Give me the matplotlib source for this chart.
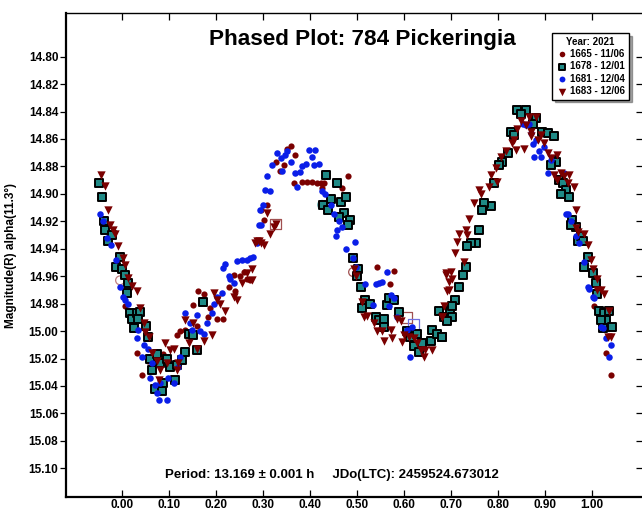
import matplotlib
matplotlib.use("Agg")
import matplotlib.pyplot as plt
from matplotlib.ticker import MultipleLocator, FormatStrFormatter

plt.rcParams['font.family'] = ['Liberation Sans', 'DejaVu Sans']

title = "Phased Plot: 784 Pickeringia"
ylabel = "Magnitude(R) alpha(11.3°)"
footer = "Period: 13.169 ± 0.001 h     JDo(LTC): 2459524.673012"
legend_title = "Year: 2021"
labels = ["1665 - 11/06", "1678 - 12/01", "1681 - 12/04", "1683 - 12/06"]

# Session 1665 (maroon circles)
ph_1665 = [0.006, 0.031, 0.041, 0.055, 0.080, 0.098, 0.087, 0.116, 0.123, 0.134, 0.151, 0.159,
           0.162, 0.173, 0.183, 0.187, 0.201, 0.215, 0.226, 0.237, 0.240, 0.251, 0.258, 0.265,
           0.272, 0.294, 0.301, 0.308, 0.326, 0.336, 0.343, 0.351, 0.359, 0.365, 0.368, 0.383,
           0.393, 0.404, 0.415, 0.422, 0.429, 0.425, 0.468, 0.480, 0.542, 0.569, 0.579, 1.004,
           1.029, 1.040]
mag_1665 = [14.982, 15.016, 15.032, 15.022, 15.036, 15.026, 15.017, 15.003, 15.000, 14.999, 14.981, 14.996,
            14.971, 14.973, 14.990, 14.983, 14.991, 14.991, 14.968, 14.959, 14.971, 14.960, 14.957, 14.962,
            14.963, 14.912, 14.919, 14.908, 14.877, 14.883, 14.879, 14.867, 14.865, 14.892, 14.872, 14.891,
            14.891, 14.891, 14.892, 14.892, 14.892, 14.896, 14.896, 14.887, 14.953, 14.966, 14.956, 14.982,
            15.016, 15.032]

# Session 1678 (teal squares)
ph_1678 = [-0.049, -0.044, -0.040, -0.037, -0.030, -0.023, -0.006, -0.013, -0.001, 0.006, 0.013, 0.009,
           0.016, 0.020, 0.025, 0.031, 0.038, 0.034, 0.051, 0.055, 0.059, 0.063, 0.070, 0.073,
           0.080, 0.084, 0.087, 0.095, 0.102, 0.112, 0.116, 0.127, 0.134, 0.141, 0.151, 0.159,
           0.171,
           0.434, 0.456, 0.443, 0.466, 0.477, 0.427, 0.437, 0.471, 0.485, 0.461, 0.480, 0.490,
           0.501, 0.500, 0.507, 0.517, 0.510, 0.528, 0.539, 0.546, 0.556, 0.564, 0.567, 0.579,
           0.588, 0.556, 0.606, 0.613, 0.628, 0.638, 0.620, 0.656, 0.660, 0.670, 0.681, 0.674,
           0.684, 0.697, 0.631,
           0.839, 0.859, 0.848, 0.880, 0.873, 0.827, 0.834, 0.894, 0.905, 0.918, 0.820, 0.809,
           0.802, 0.791, 0.784, 0.770, 0.766, 0.759, 0.752, 0.741, 0.734, 0.731, 0.724, 0.716,
           0.709, 0.702, 0.702, 0.692, 0.681, 0.919, 0.923, 0.912, 0.930, 0.937, 0.944, 0.933,
           0.951, 0.958, 0.965, 0.969, 0.976, 0.980, 0.990, 0.983, 1.001, 1.008, 1.011, 1.015,
           1.026, 1.029, 1.019, 1.022, 1.043, 1.036, 0.955]
mag_1678 = [14.892, 14.902, 14.920, 14.926, 14.934, 14.930, 14.946, 14.953, 14.955, 14.959, 14.965, 14.972,
            14.987, 14.991, 14.998, 14.987, 14.986, 14.991, 14.996, 15.004, 15.020, 15.028, 15.042, 15.017,
            15.023, 15.044, 15.038, 15.020, 15.026, 15.036, 15.025, 15.021, 15.015, 15.002, 15.003, 15.014,
            14.979,
            14.886, 14.892, 14.904, 14.906, 14.902, 14.908, 14.912, 14.914, 14.919, 14.917, 14.923, 14.947,
            14.955, 14.960, 14.968, 14.977, 14.983, 14.980, 14.990, 14.992, 14.991, 14.981, 14.976, 14.977,
            14.986, 14.997, 15.000, 15.004, 15.002, 15.009, 15.011, 15.007, 14.999, 15.002, 15.004, 14.985,
            14.990, 14.985, 15.015,
            14.839, 14.839, 14.842, 14.845, 14.849, 14.855, 14.857, 14.855, 14.856, 14.858, 14.870, 14.877,
            14.879, 14.892, 14.909, 14.907, 14.912, 14.926, 14.936, 14.936, 14.938, 14.953, 14.959, 14.968,
            14.977, 14.982, 14.990, 14.993, 15.004, 14.875, 14.877, 14.879, 14.890, 14.892, 14.897, 14.900,
            14.902, 14.919, 14.924, 14.934, 14.931, 14.934, 14.946, 14.953, 14.958, 14.965, 14.973, 14.985,
            14.987, 14.992, 14.992, 14.998, 14.997, 14.985, 14.923]

# Session 1681 (blue circles)
ph_1681 = [-0.048, -0.042, -0.033, -0.025, -0.013, -0.006, 0.001, 0.006, 0.013, 0.031, 0.034, 0.045,
           0.041, 0.055, 0.063, 0.059, 0.070, 0.073, 0.079, 0.095, 0.080, 0.098, 0.109, 0.119,
           0.123, 0.134, 0.144, 0.148, 0.159, 0.166, 0.173, 0.180, 0.191, 0.194, 0.212, 0.201,
           0.215, 0.219, 0.226, 0.230, 0.237, 0.244, 0.255, 0.265, 0.272, 0.279, 0.287, 0.290,
           0.292,
           0.294, 0.299, 0.304, 0.315, 0.308, 0.319, 0.329, 0.338, 0.340, 0.347, 0.351, 0.358,
           0.368, 0.379, 0.383, 0.390, 0.397, 0.411, 0.404, 0.407, 0.418, 0.372, 0.425, 0.432,
           0.443, 0.450, 0.461, 0.468, 0.457, 0.454, 0.475, 0.496, 0.491, 0.498, 0.517, 0.539,
           0.546, 0.553, 0.564, 0.571, 0.578, 0.567, 0.534, 0.585, 0.606, 0.617, 0.613,
           0.852, 0.859, 0.866, 0.869, 0.880, 0.873, 0.887, 0.876, 0.891, 0.898, 0.905, 0.912,
           0.940, 0.944, 0.948, 0.955, 0.965, 0.972, 0.990, 0.983, 0.994, 1.001, 1.004, 1.019,
           1.022, 1.029, 1.040, 1.036]
mag_1681 = [14.915, 14.920, 14.932, 14.937, 14.948, 14.968, 14.975, 14.977, 14.980, 15.005, 14.999, 15.010,
            15.019, 15.013, 15.023, 15.034, 15.039, 15.045, 15.050, 15.050, 15.038, 15.034, 15.038, 15.026,
            15.019, 14.987, 14.994, 14.999, 14.988, 15.000, 15.002, 14.994, 14.987, 14.980, 14.972, 14.975,
            14.954, 14.951, 14.960, 14.962, 14.965, 14.949, 14.948, 14.948, 14.947, 14.946, 14.936, 14.923,
            14.912,
            14.923, 14.908, 14.897, 14.898, 14.887, 14.879, 14.870, 14.874, 14.883, 14.872, 14.869, 14.877,
            14.885, 14.884, 14.880, 14.878, 14.868, 14.868, 14.873, 14.879, 14.878, 14.895, 14.898, 14.900,
            14.908, 14.915, 14.920, 14.924, 14.926, 14.931, 14.940, 14.935, 14.947, 14.953, 14.966, 14.966,
            14.965, 14.964, 14.957, 14.974, 14.976, 14.982, 14.981, 14.990, 14.999, 14.997, 15.019,
            14.849, 14.850, 14.849, 14.856, 14.861, 14.864, 14.869, 14.873, 14.873, 14.866, 14.885, 14.875,
            14.885, 14.915, 14.915, 14.920, 14.931, 14.936, 14.968, 14.950, 14.969, 14.975, 14.976, 14.997,
            14.998, 15.005, 15.010, 15.019]

# Session 1683 (maroon triangles)
ph_1683 = [-0.046, -0.037, -0.031, -0.026, -0.019, -0.016, -0.009, 0.002, 0.006, 0.013, 0.020, 0.031,
           0.038, 0.045, 0.048, 0.056, 0.063, 0.073, 0.080, 0.077, 0.095, 0.091, 0.102, 0.109,
           0.119, 0.116, 0.134, 0.141, 0.151, 0.159, 0.173, 0.191, 0.194, 0.201, 0.208, 0.219,
           0.237, 0.244, 0.255, 0.265, 0.276, 0.283, 0.290,
           0.308, 0.315, 0.322, 0.326, 0.287, 0.294, 0.301, 0.276,
           0.493, 0.498, 0.510, 0.514, 0.521, 0.535, 0.542, 0.553, 0.556, 0.571, 0.574, 0.585,
           0.592, 0.599, 0.610, 0.596, 0.620, 0.628, 0.635, 0.642, 0.645, 0.660, 0.688, 0.695,
           0.692, 0.681,
           0.848, 0.866, 0.880, 0.859, 0.869, 0.841, 0.834, 0.830, 0.837, 0.855, 0.869, 0.884,
           0.891, 0.898, 0.905, 0.912, 0.926, 0.919, 0.926, 0.933, 0.940, 0.951, 0.948, 0.962,
           0.816, 0.805, 0.795, 0.784, 0.798, 0.780, 0.759, 0.763, 0.748, 0.738, 0.731, 0.716,
           0.734, 0.713, 0.709, 0.727, 0.688, 0.699, 0.702, 0.695, 0.684, 0.681,
           0.965, 0.965, 0.969, 0.983, 0.990, 0.997, 1.001, 1.011, 1.019, 1.026, 1.011, 1.036,
           1.040, 1.033]
mag_1683 = [14.886, 14.894, 14.912, 14.923, 14.926, 14.929, 14.938, 14.947, 14.952, 14.961, 14.967, 14.971,
            14.983, 14.994, 15.001, 15.004, 15.016, 15.022, 15.028, 15.036, 15.023, 15.009, 15.014, 15.013,
            15.023, 15.028, 14.992, 15.009, 14.994, 15.013, 15.007, 15.003, 14.972, 14.977, 14.980, 14.985,
            14.975, 14.977, 14.965, 14.958, 14.963, 14.936, 14.934,
            14.914, 14.929, 14.924, 14.922, 14.934, 14.936, 14.937, 14.955,
            14.955, 14.960, 14.979, 14.990, 14.989, 14.994, 15.000, 15.000, 15.007, 14.999, 15.005, 14.991,
            14.993, 15.003, 15.004, 15.008, 15.005, 15.009, 15.014, 15.019, 15.014, 15.014, 14.959, 14.964,
            14.971, 14.990,
            14.847, 14.844, 14.844, 14.850, 14.855, 14.853, 14.861, 14.863, 14.868, 14.867, 14.858, 14.861,
            14.857, 14.863, 14.870, 14.874, 14.872, 14.886, 14.890, 14.885, 14.887, 14.886, 14.892, 14.895,
            14.869, 14.873, 14.881, 14.886, 14.891, 14.895, 14.897, 14.900, 14.907, 14.918, 14.926, 14.929,
            14.930, 14.935, 14.943, 14.950, 14.958, 14.957, 14.962, 14.970, 14.982, 14.990,
            14.912, 14.925, 14.928, 14.929, 14.937, 14.948, 14.955, 14.962, 14.970, 14.973, 14.970, 14.985,
            15.004, 15.004]

# Excluded points (hollow markers)
ex_ph = [0.326, 0.425, 0.491, 0.606, 0.619, -0.005]
ex_mag = [14.922, 14.908, 14.957, 14.990, 14.995, 14.963]
ex_marker = ['s', 'o', 'o', 's', 's', 'o']
ex_color = ['#a05050', '#70b0b0', '#a05050', '#a05050', '#7070e0', '#c08080']

maroon = '#7a0000'
teal = '#1f8a86'
blue = '#0a1ee8'

fig = plt.figure(figsize=(6.42, 5.12), dpi=100)
ax = fig.add_axes([66/642, 1 - 496.7/512, (642 - 66)/642, (496.7 - 13.3)/512])

for p, m, mk, c in zip(ex_ph, ex_mag, ex_marker, ex_color):
    ax.scatter([p], [m], marker=mk, s=60 if mk == 's' else 40, facecolors='none',
               edgecolors=c, linewidths=0.9, zorder=2)

ax.scatter(ph_1665, mag_1665, marker='o', s=20, color=maroon, linewidths=0, label=labels[0], zorder=3)
ax.scatter(ph_1678, mag_1678, marker='s', s=30, facecolor=teal, edgecolor='black', linewidths=1.4,
           label=labels[1], zorder=3)
ax.scatter(ph_1681, mag_1681, marker='o', s=22, color=blue, linewidths=0, label=labels[2], zorder=4)
ax.scatter(ph_1683, mag_1683, marker='v', s=36, color=maroon, linewidths=0, label=labels[3], zorder=4)

ax.set_xlim(-0.12, 1.106)
ax.set_ylim(15.1207, 14.7684)

ax.xaxis.set_major_formatter(FormatStrFormatter('%.2f'))
ax.yaxis.set_major_formatter(FormatStrFormatter('%.2f'))
ax.set_xticks([i / 10 for i in range(11)])
ax.set_yticks([14.80 + 0.02 * i for i in range(16)])

ax.tick_params(axis='x', which='major', direction='in', top=True, bottom=True, length=5,
               width=0.9, labelsize=8.5, pad=1.5)
ax.tick_params(axis='y', which='major', direction='out', left=True, right=False, length=4,
               width=0.9, labelsize=8.5, pad=1.5)
for lab in ax.get_xticklabels() + ax.get_yticklabels():
    lab.set_fontweight('bold')

# right-side inward ticks
ax2 = ax.secondary_yaxis('right')
ax2.set_yticks([14.80 + 0.02 * i for i in range(16)])
ax2.tick_params(direction='in', length=4, width=0.9, labelright=False)
ax2.spines['right'].set_visible(False)

ax.spines['left'].set_linewidth(1.6)
ax.spines['bottom'].set_linewidth(1.6)
ax.spines['top'].set_linewidth(1.0)
ax.spines['right'].set_visible(False)

ax.set_ylabel(ylabel, fontsize=8.5, fontweight='bold', labelpad=4)
ax.yaxis.set_label_coords(-0.085, 0.5)

fig.text(362/642, 1 - 40/512, title, fontsize=16.2, fontweight='bold', ha='center', va='center')
fig.text(332/642, 1 - 475/512, footer, fontsize=9.5, fontweight='bold', ha='center', va='center')

leg = ax.legend(title=legend_title, loc='upper right', bbox_to_anchor=(0.977, 0.959),
                borderaxespad=0, fontsize=7, title_fontproperties={'weight': 'bold', 'size': 7},
                prop={'weight': 'bold', 'size': 7}, frameon=True, fancybox=False, shadow=True,
                handletextpad=0.3, borderpad=0.35, labelspacing=0.25, handlelength=1.2,
                markerscale=0.9)
leg.get_frame().set_edgecolor('black')
leg.get_frame().set_linewidth(1.0)

fig.savefig('out.png', dpi=100)
